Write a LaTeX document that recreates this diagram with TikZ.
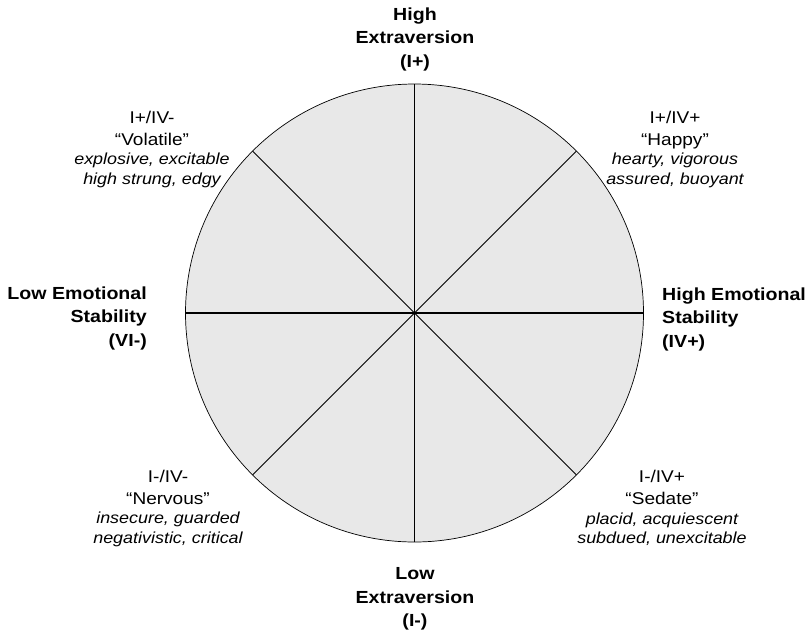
\documentclass[tikz,border=0pt]{standalone}
\usepackage{fontspec}
\setmainfont{Liberation Sans}[FakeStretch=1.12]
\usepackage{tikz}

\definecolor{sectorgray}{HTML}{E8E8E8}
\newcommand{\traitline}[1]{{\itshape\fontsize{16}{19}\selectfont #1}}
\tikzset{
  axislabel/.style={font=\bfseries\fontsize{17.5}{23.5}\selectfont, inner sep=0pt},
  typelabel/.style={font=\fontsize{17}{22}\selectfont, align=center, inner sep=0pt},
  mainaxis/.style={line width=1.6pt},
  diagaxis/.style={line width=0.8pt}
}

\begin{document}
\begin{tikzpicture}[x=1pt,y=-1pt]
        \useasboundingbox (0,0) rectangle (811,633);
        % Circle
        \coordinate (O) at (414.5,313);
        \filldraw[fill=sectorgray, draw=black, line width=0.7pt] (O) circle (229pt);
        % Axes
        \foreach \a in {45,135}
            \draw[diagaxis] (O) ++(\a:229pt) -- ++(\a+180:458pt);
        \foreach \a in {0,90}
            \draw[mainaxis] (O) ++(\a:229pt) -- ++(\a+180:458pt);
        % Axis labels
        \node[axislabel, align=center] (hiE) at (415,39) {High\\Extraversion\\(I+)};
        \node[axislabel, align=center] (loE) at (415,599) {Low\\Extraversion\\(I-)};
        \node[axislabel, align=right, anchor=east] (loS) at (147,318) {Low Emotional\\Stability\\(VI-)};
        \node[axislabel, align=left, anchor=west] (hiS) at (662,319) {High Emotional\\Stability\\(IV+)};
        % Quadrant types
        \node[typelabel] (volatile) at (152,149) {I+/IV-\\“Volatile”\\[-2.5pt]\traitline{explosive, excitable}\\[-2.5pt]\traitline{high strung, edgy}};
        \node[typelabel] (happy) at (675,149) {I+/IV+\\“Happy”\\[-2.5pt]\traitline{hearty, vigorous}\\[-2.5pt]\traitline{assured, buoyant}};
        \node[typelabel] (nervous) at (168,508) {I-/IV-\\“Nervous”\\[-2.5pt]\traitline{insecure, guarded}\\[-2.5pt]\traitline{negativistic, critical}};
        \node[typelabel] (sedate) at (662,508) {I-/IV+\\“Sedate”\\[-2.5pt]\traitline{placid, acquiescent}\\[-2.5pt]\traitline{subdued, unexcitable}};
    \end{tikzpicture}
\end{document}
